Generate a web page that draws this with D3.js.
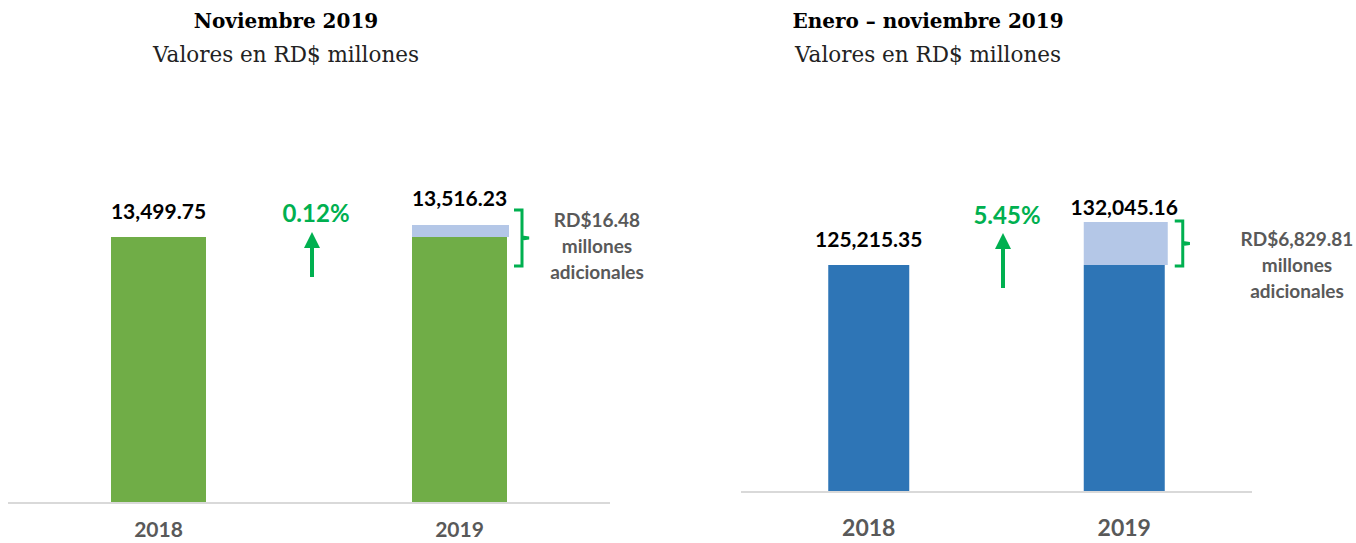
<!DOCTYPE html>
<html><head><meta charset="utf-8">
<script src="https://cdn.jsdelivr.net/npm/d3@7"></script>
<style>body{margin:0;background:#fff}svg{display:block}</style>
</head><body>
<svg id="c" width="1356" height="543"></svg>
<script>
const categories = ["2018", "2019"];
const novValues = [13499.75, 13516.23];
const yearValues = [125215.35, 132045.16];
const novChange = "0.12%";
const yearChange = "5.45%";
const novExtra = 16.48;
const yearExtra = 6829.81;
const titles = ["Noviembre 2019", "Enero \u2013 noviembre 2019"];
const subtitle = "Valores en RD$ millones";
const extraLines = ["millones", "adicionales"];

const svg = d3.select("#c");
const fmt = d3.format(",.2f");
const GREEN = "#00b050";

function drawChart(o) {
  const g = svg.append("g");
  const x = d3.scalePoint().domain(categories).range(o.xr).padding(0.5);
  const y = d3.scaleLinear().domain(o.dom).range([o.base, o.top]);
  const bw = o.bw;
  // title
  g.append("text").attr("x", o.tx).attr("y", 28).attr("text-anchor", "middle")
    .attr("font-family", "DejaVu Serif").attr("font-weight", "bold").attr("font-size", 20)
    .attr("fill", "#000").text(o.title);
  g.append("text").attr("x", o.tx).attr("y", 62).attr("text-anchor", "middle")
    .attr("font-family", "DejaVu Serif").attr("font-size", 21.5)
    .attr("fill", "#222").text(subtitle);
  // bars (2019 base = 2018 value, overlay = increment)
  const v = o.values;
  g.selectAll("rect.b").data(categories).join("rect").attr("class", "b")
    .attr("x", d => x(d) - bw / 2).attr("width", bw)
    .attr("y", (d) => y(v[0])).attr("height", d => o.base - y(v[0]))
    .attr("fill", o.color);
  g.append("rect").attr("x", x(categories[1]) - bw / 2).attr("width", bw + o.ovx)
    .attr("y", y(v[1])).attr("height", y(v[0]) - y(v[1])).attr("fill", "#b4c7e7");
  // axis line
  g.append("line").attr("x1", o.xr[0]).attr("x2", o.xr[1]).attr("y1", o.base + 1).attr("y2", o.base + 1)
    .attr("stroke", "#d9d9d9").attr("stroke-width", 2);
  // category labels
  g.selectAll("text.cat").data(categories).join("text").attr("class", "cat")
    .attr("x", d => x(d)).attr("y", o.catY).attr("text-anchor", "middle")
    .attr("font-family", "Lato").attr("font-weight", "bold").attr("font-size", o.catFs)
    .attr("fill", "#595959").text(d => d);
  // value labels
  g.selectAll("text.val").data(categories).join("text").attr("class", "val")
    .attr("x", d => x(d)).attr("y", (d, i) => y(v[i]) - o.valGap[i]).attr("text-anchor", "middle")
    .attr("font-family", "Lato").attr("font-weight", "bold").attr("font-size", 21)
    .attr("fill", "#000").text((d, i) => fmt(v[i]));
  // change arrow
  const mid = (x(categories[0]) + x(categories[1])) / 2 + o.arrDx;
  g.append("text").attr("x", mid + 4).attr("y", o.pctY).attr("text-anchor", "middle")
    .attr("font-family", "Lato").attr("font-weight", "bold").attr("font-size", 24)
    .attr("fill", GREEN).text(o.change);
  g.append("line").attr("x1", mid).attr("x2", mid).attr("y1", o.arr[0] + 14).attr("y2", o.arr[1])
    .attr("stroke", GREEN).attr("stroke-width", 4);
  g.append("path").attr("d", `M${mid},${o.arr[0]} L${mid + 8},${o.arr[0] + 16} L${mid - 8},${o.arr[0] + 16} Z`)
    .attr("fill", GREEN);
  // bracket
  const bx = x(categories[1]) + bw / 2 + o.brDx, b0 = o.br[0], b1 = o.br[1], bm = (b0 + b1) / 2;
  g.append("path").attr("d",
    `M${bx},${b0} L${bx + 8},${b0} L${bx + 8},${bm - 1} L${bx + 15},${bm} L${bx + 8},${bm + 1} L${bx + 8},${b1} L${bx},${b1}`)
    .attr("fill", "none").attr("stroke", GREEN).attr("stroke-width", 3).attr("stroke-linejoin", "miter");
  // extra text
  const lines = ["RD$" + fmt(o.extra)].concat(extraLines);
  g.selectAll("text.ex").data(lines).join("text").attr("class", "ex")
    .attr("x", o.exX).attr("y", (d, i) => o.exY + i * 26).attr("text-anchor", "middle")
    .attr("font-family", "Lato").attr("font-weight", "bold").attr("font-size", 19)
    .attr("fill", "#595959").text(d => d);
}

drawChart({
  title: titles[0], tx: 286, values: novValues, color: "#70ad47",
  xr: [8, 610], bw: 95, base: 502, top: 225, dom: [13135.8, 13516.23], ovx: 2,
  catY: 537, catFs: 21, valGap: [18, 19], change: novChange, pctY: 222, arrDx: 3, arr: [232, 277],
  brDx: 7, br: [210, 266], extra: novExtra, exX: 597, exY: 227
});
drawChart({
  title: titles[1], tx: 928, values: yearValues, color: "#2e75b6",
  xr: [741, 1252], bw: 81, base: 491, top: 222, dom: [89319, 132045.16], ovx: 3,
  catY: 536, catFs: 23, valGap: [18, 7], change: yearChange, pctY: 224, arrDx: 6.5, arr: [233, 288],
  brDx: 10, br: [221, 266], extra: yearExtra, exX: 1297, exY: 246
});
</script>
</body></html>
